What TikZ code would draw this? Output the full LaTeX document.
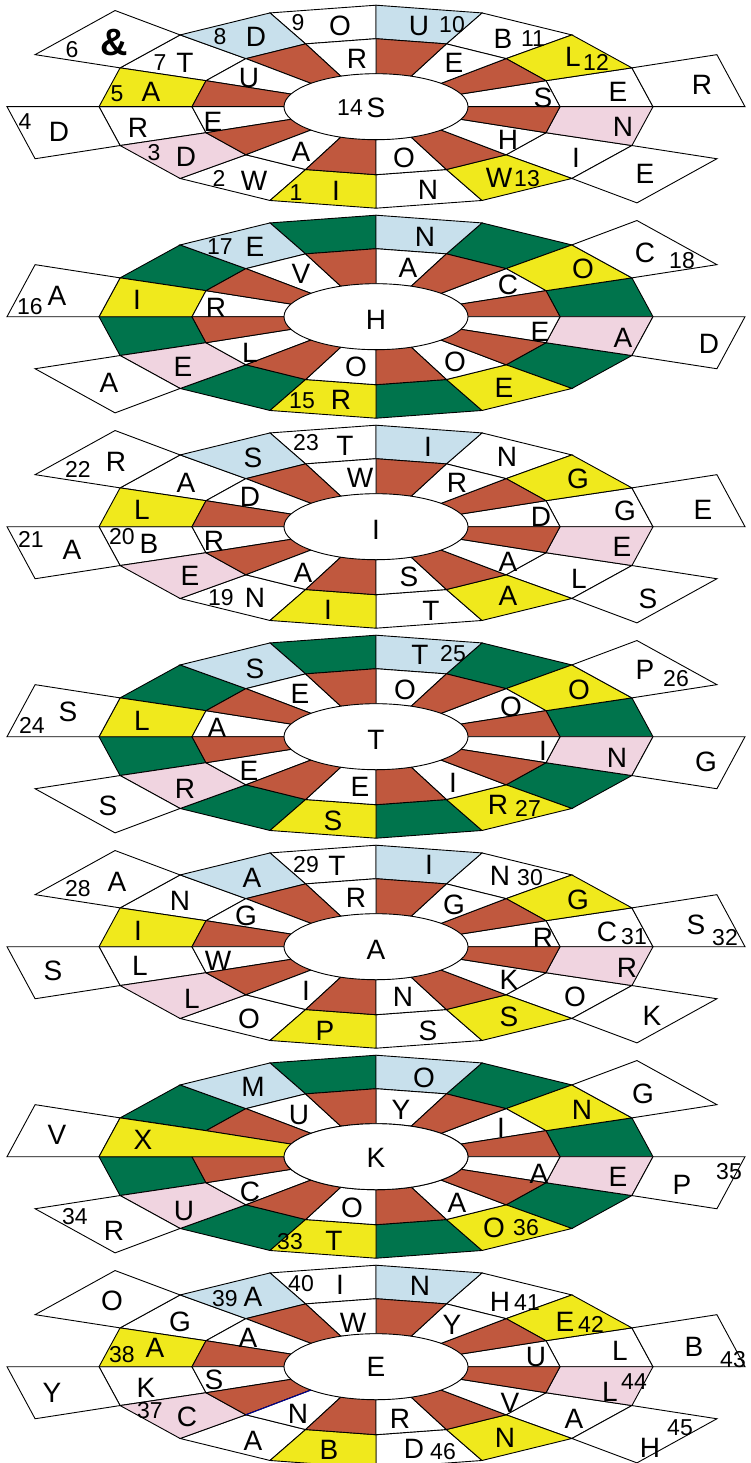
\documentclass[tikz,border=0pt]{standalone}
\usepackage{fontspec}
\setmainfont{Liberation Sans}
\usepackage{xcolor}
\usepackage{tikz}
\usetikzlibrary{calc}

\definecolor{brick}{RGB}{192,88,62}
\definecolor{lemon}{RGB}{240,233,28}
\definecolor{sky}{RGB}{200,224,236}
\definecolor{blush}{RGB}{240,212,224}
\definecolor{pine}{RGB}{0,116,76}

% one wheel: #1 centre y, #2 fill of the plain outer cells, #3 shift of the red spokes
\newcommand{\wheel}[3]{%
  \foreach \k in {0,...,16}{
    \pgfmathsetmacro{\ang}{22.5*\k}
    \coordinate (h\k) at ({376+92*cos(\ang)},{#1-33*sin(\ang)});
    \coordinate (m\k) at ({376+184*cos(\ang)},{#1-68*sin(\ang)});
    \coordinate (o\k) at ({376+277*cos(\ang)},{#1-101.5*sin(\ang)});
    \coordinate (p\k) at ({376+369*cos(\ang)},{#1-136*sin(\ang)});
  }
  \foreach \k [evaluate=\k as \n using int(\k+1)] in {0,2,...,14}
    \filldraw[seg, fill=#2] (m\k) -- (o\k) -- (o\n) -- (m\n) -- cycle;
  \foreach \k/\c [evaluate=\k as \n using int(\k+1)] in {1/lemon,3/sky,5/sky,7/lemon,9/blush,11/lemon,13/lemon,15/blush}
    \filldraw[seg, fill=\c] (m\k) -- (o\k) -- (o\n) -- (m\n) -- cycle;
  \foreach \j in {0,...,7}{
    \pgfmathtruncatemacro{\k}{2*\j+#3}
    \pgfmathtruncatemacro{\n}{\k+1}
    \filldraw[seg, fill=white] (h\k) -- (m\k) -- (m\n) -- (h\n) -- cycle;
    \pgfmathtruncatemacro{\k}{2*\j+1-#3}
    \pgfmathtruncatemacro{\n}{\k+1}
    \filldraw[seg, fill=brick] (h\k) -- (m\k) -- (m\n) -- (h\n) -- cycle;
  }
  \foreach \base in {0,6,8,14}{
    \pgfmathtruncatemacro{\k}{\base+#3}
    \pgfmathtruncatemacro{\n}{\k+1}
    \filldraw[seg, fill=white] (o\k) -- (p\k) -- (p\n) -- (o\n) -- cycle;
  }
  \filldraw[seg, fill=white] (376,#1) ellipse [x radius=92pt, y radius=33pt];
}

\begin{document}
\begin{tikzpicture}[
  x=1pt, y=-1pt,
  seg/.style={draw=black, line width=0.9pt},
  ltr/.style={inner sep=0pt, font=\fontsize{28}{28}\selectfont},
  nbr/.style={inner sep=0pt, font=\fontsize{23}{23}\selectfont}
]
\useasboundingbox (0,0) rectangle (751,1463);

\wheel{106.7}{white}{0}
\wheel{316.7}{pine}{1}
\wheel{526.7}{white}{0}
\wheel{736.7}{pine}{1}
\wheel{946.7}{white}{0}
\wheel{1156.7}{pine}{1}
% the X cell runs through both rings
\fill[lemon] (o7) -- (m7) -- (h7) -- (h8) -- (m8) -- (o8) -- cycle;
\draw[seg] (o7) -- (m7) -- (h7) (o8) -- (m8) -- (h8) (o7) -- (o8);
\filldraw[seg, fill=white] (376,1156.7) ellipse [x radius=92pt, y radius=33pt];
\wheel{1366.7}{white}{0}
\draw[seg, draw=blue!60!black] (m10) -- (h10);

% wheel 1
\foreach \x/\y/\txt [count=\i] in {376/108/S,543/98/S,454/63/E,357/59/R,249/78/U,213/122/E,301/152/A,404/158/O,508/140/H,
  618/92/E,573/57/L,503/39/B,419/26/U,340/26/O,256/37/D,185/63/T,151/92/A,138/128/R,186/157/D,254/181/W,336/191/I,
  428/190/N,499/178/W,576/158/I,623/127/N,702/85/R,59/132/D,645/174/E}
  \node[ltr] (wa\i) at (\x,\y) {\txt};
\foreach \x/\y/\txt [count=\i] in {350/108/14,596/62/12,533/39/11,452/25/10,298/23/9,220/37/8,160/63/7,117/94/5,
  154/153/3,219/178/2,296/193/1,527/179/13,72/50/6,25/122/4}
  \node[nbr] (na\i) at (\x,\y) {\txt};
\node[inner sep=0pt, font=\bfseries\fontsize{38}{38}\selectfont] (amp) at (114,43) {\&};

% wheel 2
\foreach \x/\y/\txt [count=\i] in {376/320/H,255/247/E,301/274/V,137/300/I,216/308/R,57/296/A,183/367/E,250/353/L,
  109/383/A,341/400/R,356/367/O,425/237/N,408/268/A,583/269/O,645/253/C,508/285/C,540/332/E,623/338/A,709/344/D,
  455/362/O,504/388/E}
  \node[ltr] (wb\i) at (\x,\y) {\txt};
\foreach \x/\y/\txt [count=\i] in {220/247/17,30/307/16,302/401/15,682/261/18}
  \node[nbr] (nb\i) at (\x,\y) {\txt};

% wheel 3
\foreach \x/\y/\txt [count=\i] in {376/530/I,345/446/T,253/458/S,116/462/R,186/483/A,360/478/W,250/497/D,142/510/L,
  72/550/A,149/544/B,214/541/R,190/576/E,303/573/A,255/598/N,328/610/I,428/447/I,507/457/N,457/483/R,578/479/G,
  541/517/D,625/511/G,703/510/E,622/547/E,508/562/A,409/577/S,579/579/L,508/596/A,648/599/S,431/611/T}
  \node[ltr] (wc\i) at (\x,\y) {\txt};
\foreach \x/\y/\txt [count=\i] in {306/443/23,78/469/22,31/539/21,122/537/20,221/598/19}
  \node[nbr] (nc\i) at (\x,\y) {\txt};

% wheel 4
\foreach \x/\y/\txt [count=\i] in {376/740/T,255/669/S,300/694/E,142/721/L,68/712/S,217/728/A,249/771/E,185/789/R,
  108/806/S,360/787/E,333/821/S,420/655/T,405/690/O,579/690/O,645/670/P,511/707/O,543/751/I,617/758/N,706/762/G,
  453/783/I,498/805/R}
  \node[ltr] (wd\i) at (\x,\y) {\txt};
\foreach \x/\y/\txt [count=\i] in {32/725/24,453/654/25,676/679/26,528/808/27}
  \node[nbr] (nd\i) at (\x,\y) {\txt};

% wheel 5
\foreach \x/\y/\txt [count=\i] in {376/950/A,337/866/T,252/878/A,117/882/A,180/901/N,356/898/R,246/916/G,138/931/I,
  218/961/W,140/966/L,53/971/S,192/999/L,306/991/I,249/1019/O,325/1031/P,429/865/I,500/876/N,454/905/G,578/900/G,
  543/938/R,607/932/C,696/925/S,627/968/R,509/980/K,575/997/O,652/1016/K,403/997/N,509/1017/S,428/1031/S}
  \node[ltr] (we\i) at (\x,\y) {\txt};
\foreach \x/\y/\txt [count=\i] in {306/865/29,78/889/28,530/878/30,634/937/31,725/938/32}
  \node[nbr] (ne\i) at (\x,\y) {\txt};

% wheel 6
\foreach \x/\y/\txt [count=\i] in {376/1158/K,253/1087/M,424/1078/O,299/1115/U,401/1110/Y,501/1128/I,582/1110/N,
  643/1094/G,57/1135/V,143/1140/X,539/1174/A,618/1177/E,682/1185/P,250/1192/C,352/1208/O,457/1203/A,184/1211/U,
  114/1231/R,334/1241/T,494/1228/O}
  \node[ltr] (wf\i) at (\x,\y) {\txt};
\foreach \x/\y/\txt [count=\i] in {729/1172/35,75/1217/34,290/1242/33,526/1228/36}
  \node[nbr] (nf\i) at (\x,\y) {\txt};

% wheel 7
\foreach \x/\y/\txt [count=\i] in {376/1367/E,112/1301/O,253/1297/A,340/1285/I,420/1286/N,500/1302/H,180/1322/G,
  353/1323/W,452/1325/Y,565/1322/E,248/1338/A,536/1357/U,620/1351/L,694/1347/B,155/1348/A,52/1393/Y,146/1388/K,
  214/1380/S,610/1392/L,510/1403/V,187/1417/C,298/1414/N,400/1419/R,574/1419/A,253/1441/A,329/1450/B,414/1449/D,
  505/1438/N,650/1448/H}
  \node[ltr] (wg\i) at (\x,\y) {\txt};
\foreach \x/\y/\txt [count=\i] in {225/1299/39,301/1284/40,527/1303/41,591/1324/42,733/1360/43,122/1355/38,
  634/1382/44,150/1411/37,443/1452/46,680/1428/45}
  \node[nbr] (ng\i) at (\x,\y) {\txt};
\end{tikzpicture}
\end{document}
